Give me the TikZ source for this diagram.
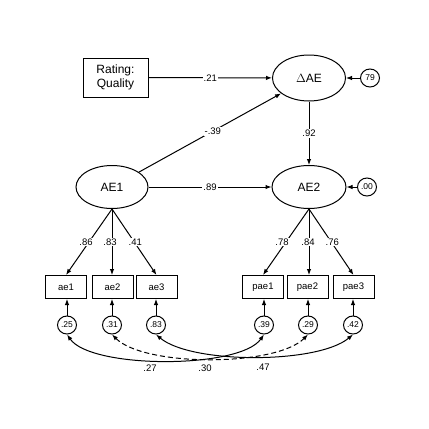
\documentclass[tikz,border=0pt]{standalone}
\usepackage{fontspec}
\setmainfont{Liberation Sans}
\usetikzlibrary{arrows.meta,shapes.geometric}
\begin{document}
\begin{tikzpicture}[x=1pt,y=-1pt,
  every node/.style={inner sep=0pt},
  lat/.style={draw, ellipse, line width=1pt, minimum width=72pt, minimum height=43pt, font=\fontsize{12}{13}\selectfont},
  obs/.style={draw, rectangle, line width=1pt, minimum width=41pt, minimum height=23pt, font=\fontsize{9.5}{11}\selectfont},
  err/.style={draw, ellipse, line width=1pt, minimum width=19pt, minimum height=18pt, font=\fontsize{8.5}{9}\selectfont},
  coef/.style={fill=white, inner sep=1pt, font=\fontsize{9.5}{11}\selectfont},
  arr/.style={line width=1pt, -{Latex[length=6pt,width=4.5pt]}},
  cov/.style={line width=1pt, {Latex[length=6pt,width=4.5pt]}-{Latex[length=6pt,width=4.5pt]}}
]
\useasboundingbox (0,0) rectangle (429,429);
% nodes
\node[draw, rectangle, line width=1pt, minimum width=65pt, minimum height=39pt, align=center, font=\fontsize{12}{14}\selectfont] (rating) at (115.5,77.5) {Rating:\\Quality};
\node[lat, minimum width=73pt, minimum height=46pt] (dae) at (309,78) {$\Delta$AE};
\node[err] (e79) at (370,78) {79};
\node[lat] (ae1l) at (112,187) {AE1};
\node[lat, minimum width=74pt] (ae2l) at (309,187) {AE2};
\node[err] (e00) at (367,187) {.00};
% observed
\node[obs] (ae1) at (66,287) {ae1};
\node[obs] (ae2) at (112.5,287) {ae2};
\node[obs] (ae3) at (156.5,287) {ae3};
\node[obs] (pae1) at (263,287) {pae1};
\node[obs] (pae2) at (307.5,287) {pae2};
\node[obs] (pae3) at (353.5,287) {pae3};
% error circles
\node[err] (c25) at (67,325) {.25};
\node[err] (c31) at (112,325) {.31};
\node[err] (c83) at (156,325) {.83};
\node[err] (c39) at (264,325) {.39};
\node[err] (c29) at (308,325) {.29};
\node[err] (c42) at (353,325) {.42};
% structural paths
\draw[arr] (rating) -- node[coef] {.21} (dae);
\draw[arr] (ae1l) -- node[coef, pos=0.52] {-.39} (dae);
\draw[arr] (dae) -- node[coef] {.92} (ae2l);
\draw[arr] (ae1l) -- node[coef] {.89} (ae2l);
\draw[arr] (e79) -- (dae);
\draw[arr] (e00) -- (ae2l);
% loadings
\draw[arr] (ae1l.south) -- node[coef, pos=0.5, xshift=-3pt] {.86} (ae1.north);
\draw[arr] (ae1l.south) -- node[coef, pos=0.5, xshift=-2pt] {.83} (ae1l.south |- ae2.north);
\draw[arr] (ae1l.south) -- node[coef, pos=0.5, xshift=1pt] {.41} (ae3.north);
\draw[arr] (ae2l.south) -- node[coef, pos=0.5, xshift=-4pt] {.78} (pae1.north);
\draw[arr] (ae2l.south) -- node[coef, pos=0.5, xshift=-1pt] {.84} (ae2l.south |- pae2.north);
\draw[arr] (ae2l.south) -- node[coef, pos=0.5, xshift=1pt] {.76} (pae3.north);
% errors to indicators
\draw[arr] (c25.north) -- (c25.north |- ae1.south);
\draw[arr] (c31.north) -- (c31.north |- ae2.south);
\draw[arr] (c83.north) -- (c83.north |- ae3.south);
\draw[arr] (c39.north) -- (c39.north |- pae1.south);
\draw[arr] (c29.north) -- (c29.north |- pae2.south);
\draw[arr] (c42.north) -- (c42.north |- pae3.south);
% covariances
\draw[cov] (c25.south) to[out=-55, in=-125, looseness=0.55] (c39.south);
\draw[cov, dash pattern=on 5pt off 3pt] (c31.south) to[out=-45, in=-135, looseness=0.6] (c29.south);
\draw[cov] (c83.south) to[out=-40, in=-140, looseness=0.6] (c42.south);
\node[coef, fill=none] (l27) at (150,368) {.27};
\node[coef, fill=none] (l30) at (205,368) {.30};
\node[coef, fill=none] (l47) at (263,367) {.47};
\end{tikzpicture}
\end{document}
